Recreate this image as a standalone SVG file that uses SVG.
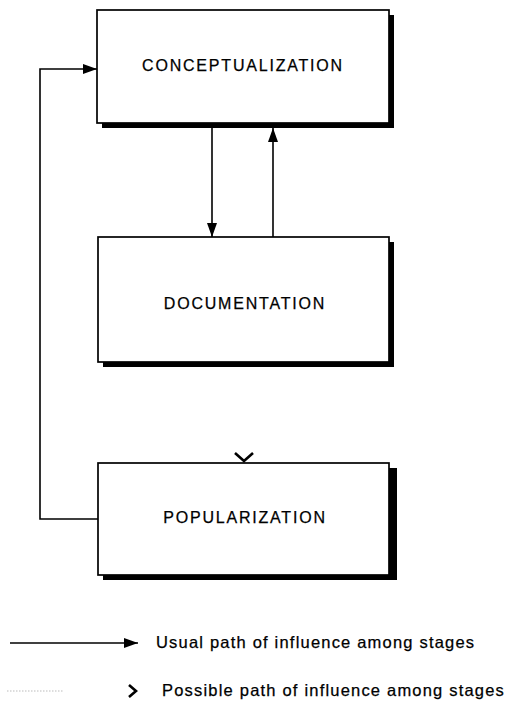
<svg xmlns="http://www.w3.org/2000/svg" width="515" height="709" viewBox="0 0 515 709">
<style>
.box{fill:#fff;stroke:#000;stroke-width:1.7}
.shadow{fill:#000}
.lbl{font-family:"Liberation Sans",Arial,sans-serif;font-size:16px;letter-spacing:1.8px;text-anchor:middle;fill:#000;stroke:#000;stroke-width:0.25}
.leg{font-family:"Liberation Sans",Arial,sans-serif;font-size:16.5px;letter-spacing:1.2px;fill:#000;stroke:#000;stroke-width:0.25}
.conn{fill:none;stroke:#000;stroke-width:1.6}
</style>
<defs>
<marker id="ah" viewBox="0 0 14 10" refX="14" refY="5" markerWidth="14" markerHeight="10" markerUnits="userSpaceOnUse" orient="auto">
<path d="M0,0 L14,5 L0,10 Z" fill="#000"/>
</marker>
</defs>
<rect width="515" height="709" fill="#fff"/>
<g id="conceptualization">
<rect class="shadow" x="102" y="15" width="292" height="113"/>
<rect class="box" x="97" y="10" width="292" height="113"/>
<text class="lbl" x="243" y="71">CONCEPTUALIZATION</text>
</g>
<g id="documentation">
<rect class="shadow" x="103" y="242" width="291" height="125"/>
<rect class="box" x="98" y="237" width="291" height="125"/>
<text class="lbl" x="245" y="309">DOCUMENTATION</text>
</g>
<g id="popularization">
<rect class="shadow" x="103" y="468" width="294" height="112"/>
<rect class="box" x="98" y="463" width="291" height="112"/>
<text class="lbl" x="245" y="523">POPULARIZATION</text>
</g>
<g id="connectors">
<line class="conn" x1="212" y1="128" x2="212" y2="237" marker-end="url(#ah)"/>
<line class="conn" x1="273" y1="237" x2="273" y2="128" marker-end="url(#ah)"/>
<polyline class="conn" points="98,519 40,519 40,69 97,69" marker-end="url(#ah)"/>
<polyline fill="none" stroke="#000" stroke-width="2.6" points="235,453 244,461 253,453"/>
</g>
<g id="legend">
<line class="conn" x1="10" y1="643" x2="138" y2="643" marker-end="url(#ah)"/>
<text class="leg" x="156" y="648">Usual path of influence among stages</text>
<line x1="7" y1="691" x2="63" y2="691" stroke="#bbb" stroke-width="1.2" stroke-dasharray="1.5,1.5"/>
<polyline fill="none" stroke="#000" stroke-width="2.6" points="129,685 136,691 129,697"/>
<text class="leg" x="162" y="696">Possible path of influence among stages</text>
</g>
</svg>
